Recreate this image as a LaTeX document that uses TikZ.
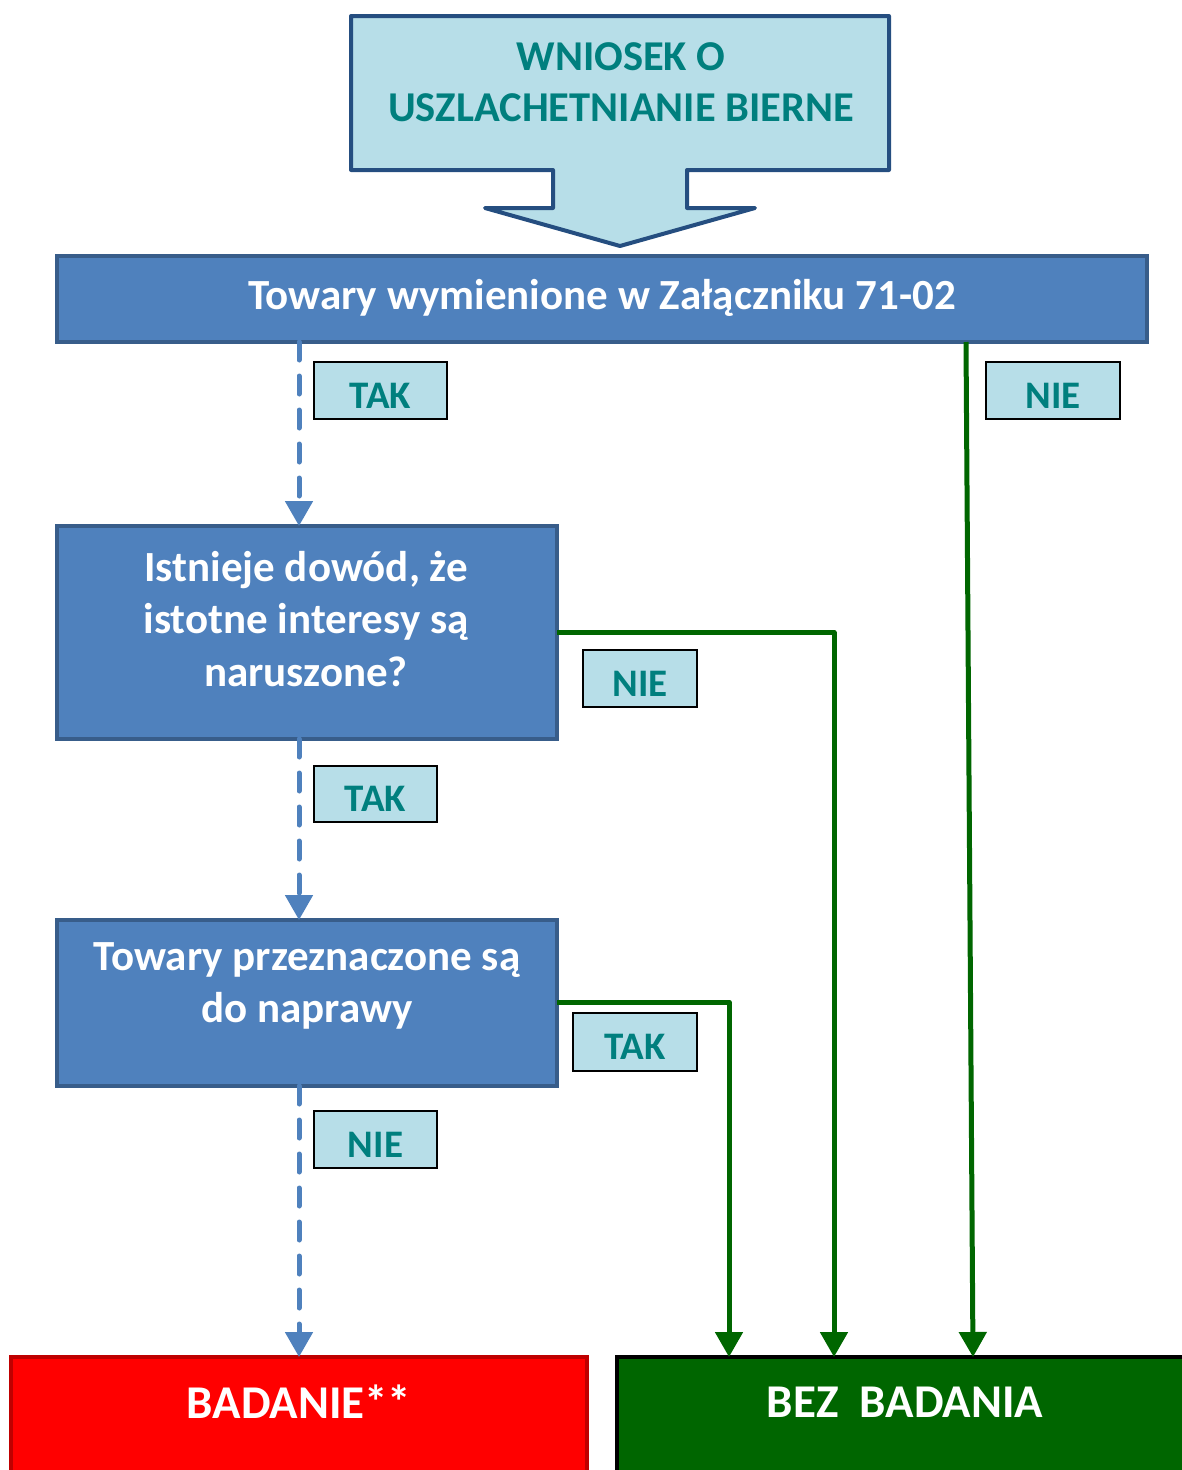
\documentclass[tikz,border=0pt]{standalone}
\usepackage{fontspec}
\setmainfont{Carlito}
\usetikzlibrary{arrows.meta}
\definecolor{lblue}{HTML}{B7DEE8}
\definecolor{dblue}{HTML}{254E80}
\definecolor{mblue}{HTML}{4F81BD}
\definecolor{bborder}{HTML}{385D8A}
\definecolor{teal2}{HTML}{007F7E}
\definecolor{dgreen}{HTML}{006600}
\tikzset{
  x=1pt, y=-1pt,
  bluebox/.style={draw=bborder, fill=mblue, line width=4pt, inner sep=0pt, outer sep=0pt},
  boxtext/.style={text=white, font=\fontsize{43}{52.5}\selectfont\bfseries, align=center, inner sep=0pt},
  lbl/.style={draw=black, fill=lblue, line width=2pt, text=teal2, font=\fontsize{39}{40}\selectfont\bfseries, inner sep=0pt, outer sep=0pt},
  dasharrow/.style={draw=mblue, line width=5pt, dash pattern=on 18pt off 16pt, line cap=round, -{Triangle[width=27pt,length=25pt,line cap=butt]}},
  greenarrow/.style={draw=dgreen, line width=5pt, line join=round, -{Triangle[width=27pt,length=25pt]}},
}
\newcommand{\lowered}[1]{\raisebox{-5pt}[\height][\depth]{#1}}
\begin{document}
\begin{tikzpicture}
\useasboundingbox (0,0) rectangle (1182,1470);
\clip (0,0) rectangle (1182,1470);
% top callout
\draw[fill=lblue, draw=dblue, line width=4pt, line join=round]
  (351,16) -- (889,16) -- (889,170) -- (687,170) -- (687,208) -- (755,208) -- (620,246)
  -- (485,208) -- (553,208) -- (553,170) -- (351,170) -- cycle;
\node[text=teal2, font=\fontsize{42.5}{51}\selectfont\bfseries, align=center] (wn) at (621,82) {WNIOSEK O\\USZLACHETNIANIE BIERNE};
% main bar
\node[bluebox, minimum width=1090pt, minimum height=86pt] (bar) at (602,299) {};
\node[boxtext] (bart) at (602,298) {Towary wymienione w Załączniku 71-02};
% question boxes
\node[bluebox, minimum width=500pt, minimum height=213pt] (q1) at (307,632.5) {};
\node[boxtext] (q1t) at (306,619) {Istnieje dowód, że\\istotne interesy są\\naruszone?};
\node[bluebox, minimum width=500pt, minimum height=166pt] (q2) at (307,1003) {};
\node[boxtext] (q2t) at (307,986) {Towary przeznaczone są\\do naprawy};
% bottom boxes
\node[draw=red!75!black, fill=red, line width=4pt, outer sep=0pt, minimum width=576pt, minimum height=200pt, anchor=north west] (bad) at (11,1357) {};
\node[text=white, font=\fontsize{47}{50}\selectfont\bfseries] (badt) at (299,1402) {BADANIE**};
\node[draw=black, fill=dgreen, line width=4pt, outer sep=0pt, minimum width=600pt, minimum height=200pt, anchor=north west] (bez) at (617,1357) {};
\node[text=white, font=\fontsize{47}{50}\selectfont\bfseries] (bezt) at (905,1402) {BEZ\ \ BADANIA};
% labels
\node[lbl, minimum width=133pt, minimum height=57pt] (l1) at (380.5,390.5) {\lowered{TAK}};
\node[lbl, minimum width=134pt, minimum height=57pt] (l2) at (1053,390.5) {\lowered{NIE}};
\node[lbl, minimum width=114pt, minimum height=57pt] (l3) at (640,678.5) {\lowered{NIE}};
\node[lbl, minimum width=123pt, minimum height=56pt] (l4) at (375.5,794) {\lowered{TAK}};
\node[lbl, minimum width=124pt, minimum height=58pt] (l5) at (635,1042) {\lowered{TAK}};
\node[lbl, minimum width=123pt, minimum height=57pt] (l6) at (375.5,1139.5) {\lowered{NIE}};
% connectors
\coordinate (b1) at (299,342);
\coordinate (b2) at (299,739);
\coordinate (b3) at (299,1086);
\draw[dasharrow] (b1) -- (q1.north -| b1);
\draw[dasharrow] (b2) -- (q2.north -| b2);
\draw[dasharrow] (b3) -- (bad.north -| b3);
\coordinate (g1) at (966,342);
\coordinate (g1e) at (973,1357);
\draw[greenarrow] (g1) -- (g1e);
\draw[greenarrow] (q1.east) -- (834,632.5) -- (834,1357);
\draw[greenarrow] (q2.east |- 0,1002) -- (729,1002) -- (729,1357);
\end{tikzpicture}
\end{document}
